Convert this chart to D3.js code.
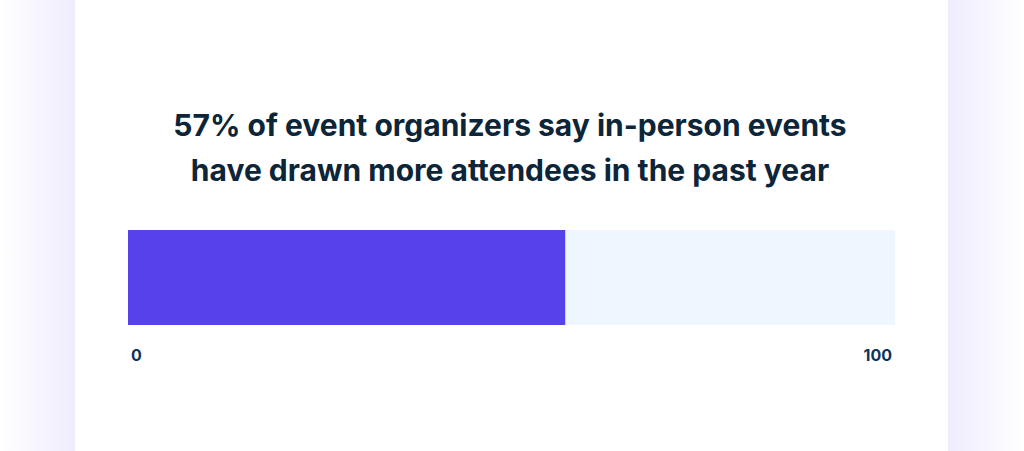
<!DOCTYPE html>
<html>
<head>
<meta charset="utf-8">
<script src="https://cdn.jsdelivr.net/npm/d3@7"></script>
<style>
  html, body { margin: 0; padding: 0; background: #fff; }
  svg { display: block; }
</style>
</head>
<body>
<div id="chart"></div>
<script>
// data
var titleLines = ["57% of event organizers say in-person events", "have drawn more attendees in the past year"];
var value = 57;
var domainMax = 100;
var tickLabels = [0, 100];

var W = 1024, H = 451;
var margin = {left: 128, right: 129};

var svg = d3.select("#chart")
  .append("svg")
    .attr("width", W)
    .attr("height", H);

// page background with soft lavender side shadows
var defs = svg.append("defs");
var gl = defs.append("linearGradient").attr("id", "gl").attr("x1", 0).attr("x2", 1);
gl.append("stop").attr("offset", 0).attr("stop-color", "#ffffff");
gl.append("stop").attr("offset", 1).attr("stop-color", "#efecfd");
var gr = defs.append("linearGradient").attr("id", "gr").attr("x1", 0).attr("x2", 1);
gr.append("stop").attr("offset", 0).attr("stop-color", "#efecfd");
gr.append("stop").attr("offset", 1).attr("stop-color", "#ffffff");

svg.append("rect").attr("x", 0).attr("y", 0).attr("width", 75).attr("height", H).attr("fill", "url(#gl)");
svg.append("rect").attr("x", 948).attr("y", 0).attr("width", 76).attr("height", H).attr("fill", "url(#gr)");
svg.append("rect").attr("x", 75).attr("y", 0).attr("width", 873).attr("height", H).attr("fill", "#ffffff");

// title
svg.append("g")
  .selectAll("text")
  .data(titleLines)
  .enter()
  .append("text")
    .attr("x", 510)
    .attr("y", (d, i) => 136 + i * 45)
    .attr("text-anchor", "middle")
    .style("font-family", "Inter, 'Noto Sans', sans-serif")
    .style("font-weight", 700)
    .style("font-size", "30px")
    .style("fill", "#0c2538")
    .text(d => d);

var x = d3.scaleLinear()
  .domain([0, domainMax])
  .range([margin.left, W - margin.right]);

var barTop = 230, barH = 95;

// track
svg.append("rect")
  .attr("x", x(0))
  .attr("y", barTop)
  .attr("width", x(domainMax) - x(0))
  .attr("height", barH)
  .attr("fill", "#eef6ff");

// value bar
svg.append("rect")
  .attr("x", x(0))
  .attr("y", barTop)
  .attr("width", x(value) - x(0))
  .attr("height", barH)
  .attr("fill", "#5741ea");

// end labels
svg.append("g")
  .selectAll("text")
  .data(tickLabels)
  .enter()
  .append("text")
    .attr("x", d => d === 0 ? x(d) + 3 : x(d) - 3)
    .attr("y", 361)
    .attr("text-anchor", d => d === 0 ? "start" : "end")
    .style("font-family", "Inter, 'Noto Sans', sans-serif")
    .style("font-weight", 700)
    .style("font-size", "16px")
    .style("fill", "#0d335c")
    .text(d => d);
</script>
</body>
</html>
